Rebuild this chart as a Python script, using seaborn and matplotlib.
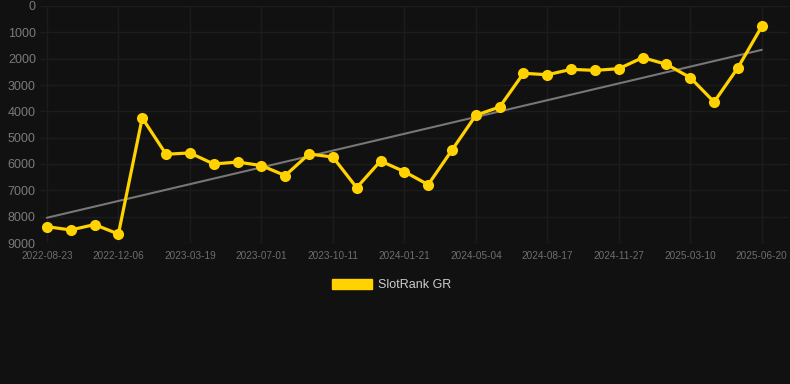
import numpy as np
import pandas as pd
import seaborn as sns
import matplotlib.pyplot as plt
from matplotlib.patches import Patch

# rank values (lower = better, axis inverted)
ranks = [8380, 8505, 8300, 8660, 4250, 5630, 5580, 6000, 5925, 6060,
         6440, 5620, 5735, 6900, 5885, 6290, 6785, 5470, 4150, 3835,
         2555, 2610, 2405, 2445, 2380, 1960, 2215, 2720, 3645, 2340, 775]
tick_labels = ["2022-08-23", "2022-12-06", "2023-03-19", "2023-07-01",
               "2023-10-11", "2024-01-21", "2024-05-04", "2024-08-17",
               "2024-11-27", "2025-03-10", "2025-06-20"]
y_ticks = [0, 1000, 2000, 3000, 4000, 5000, 6000, 7000, 8000, 9000]
series_name = "SlotRank GR"

df = pd.DataFrame({"idx": np.arange(len(ranks)), "rank": ranks})

bg = "#111111"
yellow = "#FFD200"

sns.set_style("dark")
plt.rcParams["font.family"] = ["Liberation Sans", "DejaVu Sans"]

fig = plt.figure(figsize=(7.9, 3.84), dpi=100, facecolor=bg)
ax = fig.add_axes([40 / 790, 1 - 243 / 384, 748 / 790, 237 / 384])
ax.set_facecolor(bg)

# trend line
sns.regplot(data=df, x="idx", y="rank", ax=ax, scatter=False, ci=None,
            line_kws={"color": "#777777", "linewidth": 1.5, "zorder": 2})
# main series
sns.lineplot(data=df, x="idx", y="rank", ax=ax, color=yellow, linewidth=2.3,
             marker="o", markersize=8, markeredgewidth=0, zorder=3)

ax.set_xlim(-0.29, 31.1)
ax.set_ylim(9000, 0)
ax.set_yticks(y_ticks)
ax.set_yticklabels([str(v) for v in y_ticks])
ax.set_xticks(np.arange(0, len(ranks), 3))
ax.set_xticklabels(tick_labels)
ax.tick_params(axis="y", colors="#7a7a7a", labelsize=9, length=0, pad=3)
ax.tick_params(axis="x", colors="#6e6e6e", labelsize=7.2, length=0, pad=6)
ax.grid(True, color="#1c1c1c", linewidth=1.0)
ax.set_xlabel("")
ax.set_ylabel("")
for s in ax.spines.values():
    s.set_visible(False)

handle = Patch(facecolor=yellow, edgecolor=yellow, label=series_name)
fig.legend(handles=[handle], loc="center", bbox_to_anchor=(0.4955, 0.258),
           frameon=False, fontsize=9, labelcolor="#cccccc",
           handlelength=3.2, handleheight=0.95, handletextpad=0.5)

fig.savefig("out.png", dpi=100, facecolor=bg)
